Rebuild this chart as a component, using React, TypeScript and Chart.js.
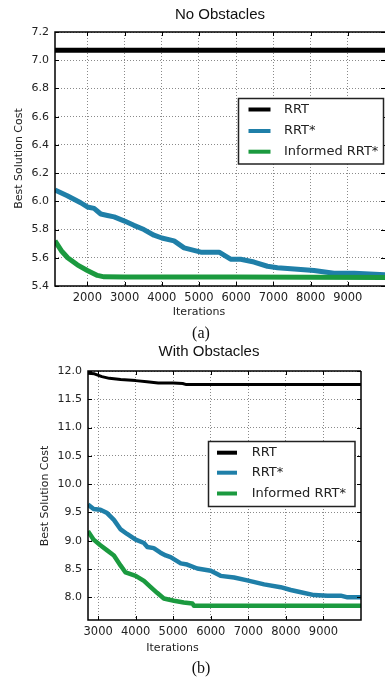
import React, { useEffect, useRef } from "react";
import { Chart, registerables } from "chart.js";

Chart.register(...registerables);

const seriesNames = ["RRT", "RRT*", "Informed RRT*"];
const seriesColors = ["#000000", "#1f7fa8", "#1b9a3f"];

// (a) No Obstacles
const titleA = "No Obstacles";
const xTicksA = [2000, 3000, 4000, 5000, 6000, 7000, 8000, 9000];
const yTicksA = [5.4, 5.6, 5.8, 6.0, 6.2, 6.4, 6.6, 6.8, 7.0, 7.2];
const rrtIterA = [1130, 10000];
const rrtCostA = [7.07, 7.07];
const rrtStarIterA = [1130, 1460, 1820, 2000, 2180, 2360, 2540, 2720, 3000, 3250, 3520, 3790, 4000, 4330, 4600, 5050, 5540, 5850, 6120, 6480, 6840, 7110, 7560, 8090, 8630, 9170, 10000];
const rrtStarCostA = [6.08, 6.04, 5.99, 5.96, 5.95, 5.91, 5.9, 5.89, 5.86, 5.83, 5.8, 5.76, 5.74, 5.72, 5.67, 5.64, 5.64, 5.59, 5.59, 5.57, 5.54, 5.53, 5.52, 5.51, 5.49, 5.49, 5.48];
const informedIterA = [1130, 1300, 1470, 1730, 2000, 2270, 2450, 3000, 6000, 10000];
const informedCostA = [5.72, 5.65, 5.6, 5.55, 5.51, 5.475, 5.465, 5.463, 5.463, 5.46];

// (b) With Obstacles
const titleB = "With Obstacles";
const xTicksB = [3000, 4000, 5000, 6000, 7000, 8000, 9000];
const yTicksB = [8.0, 8.5, 9.0, 9.5, 10.0, 10.5, 11.0, 11.5, 12.0];
const rrtIterB = [2730, 2900, 3100, 3300, 3600, 4000, 4300, 4600, 5000, 5250, 5350, 10000];
const rrtCostB = [11.96, 11.95, 11.9, 11.87, 11.85, 11.83, 11.81, 11.79, 11.79, 11.78, 11.76, 11.76];
const rrtStarIterB = [2730, 2880, 3060, 3240, 3420, 3600, 3770, 4000, 4220, 4310, 4480, 4660, 4800, 4930, 5200, 5370, 5640, 6000, 6260, 6620, 6970, 7420, 7860, 8130, 8400, 8750, 9110, 9460, 9640, 10000];
const rrtStarCostB = [9.64, 9.56, 9.55, 9.49, 9.37, 9.2, 9.12, 9.02, 8.96, 8.89, 8.87, 8.79, 8.74, 8.71, 8.6, 8.58, 8.51, 8.47, 8.38, 8.35, 8.3, 8.23, 8.18, 8.13, 8.09, 8.04, 8.03, 8.03, 8.0, 8.0];
const informedIterB = [2730, 2880, 3060, 3240, 3420, 3600, 3730, 4000, 4220, 4400, 4570, 4750, 5020, 5280, 5510, 5550, 10000];
const informedCostB = [9.17, 9.02, 8.92, 8.83, 8.74, 8.56, 8.44, 8.38, 8.29, 8.18, 8.08, 7.98, 7.94, 7.91, 7.89, 7.85, 7.85];

const xTitle = "Iterations";
const yTitle = "Best Solution Cost";

const SANS = '"DejaVu Sans", sans-serif';
const TEXT = "#222";

type Deco = {
  title: string;
  titleX: number;
  titleY: number;
  yTitleX: number;
  yTitleY: number;
  xTitleX: number;
  xTitleY: number;
  box: [number, number, number, number];
  rows: number[];
  lineX0: number;
  lineX1: number;
  textX: number;
  rightBorder: boolean;
  xTicks: number[];
  yTicks: number[];
};

function makeDecoPlugin(d: Deco) {
  return {
    id: "deco",
    afterDraw(chart: any) {
      const ctx = chart.ctx as CanvasRenderingContext2D;
      const a = chart.chartArea;
      const xs = chart.scales.x;
      const ys = chart.scales.y;
      ctx.save();
      // inward tick marks
      ctx.strokeStyle = "#000";
      ctx.lineWidth = 1;
      ctx.beginPath();
      d.xTicks.forEach((v) => {
        const px = Math.round(xs.getPixelForValue(v)) + 0.5;
        ctx.moveTo(px, a.bottom);
        ctx.lineTo(px, a.bottom - 4);
        ctx.moveTo(px, a.top);
        ctx.lineTo(px, a.top + 4);
      });
      d.yTicks.forEach((v) => {
        const py = Math.round(ys.getPixelForValue(v)) + 0.5;
        ctx.moveTo(a.left, py);
        ctx.lineTo(a.left + 4, py);
        ctx.moveTo(a.right, py);
        ctx.lineTo(a.right - 4, py);
      });
      ctx.stroke();
      // frame
      ctx.lineWidth = 1.5;
      ctx.beginPath();
      ctx.moveTo(a.right, a.top);
      ctx.lineTo(a.left, a.top);
      ctx.lineTo(a.left, a.bottom);
      ctx.lineTo(a.right, a.bottom);
      if (d.rightBorder) {
        ctx.lineTo(a.right, a.top);
      }
      ctx.stroke();
      // legend
      const [bl, bt, br, bb] = d.box;
      ctx.fillStyle = "#fff";
      ctx.fillRect(bl, bt, br - bl, bb - bt);
      ctx.strokeStyle = "#222";
      ctx.lineWidth = 1.5;
      ctx.strokeRect(bl, bt, br - bl, bb - bt);
      chart.data.datasets.forEach((ds: any, i: number) => {
        const y = d.rows[i];
        ctx.strokeStyle = ds.borderColor;
        ctx.lineWidth = 4;
        ctx.beginPath();
        ctx.moveTo(d.lineX0, y);
        ctx.lineTo(d.lineX1, y);
        ctx.stroke();
        ctx.fillStyle = TEXT;
        ctx.font = `13px ${SANS}`;
        ctx.textAlign = "left";
        ctx.textBaseline = "middle";
        ctx.fillText(ds.label, d.textX, y);
      });
      // titles
      ctx.fillStyle = "#111";
      ctx.font = `15px "Liberation Sans", Arial, sans-serif`;
      ctx.textAlign = "center";
      ctx.textBaseline = "middle";
      ctx.fillText(d.title, d.titleX, d.titleY);
      ctx.fillStyle = TEXT;
      ctx.font = `11px ${SANS}`;
      ctx.fillText(xTitle, d.xTitleX, d.xTitleY);
      ctx.translate(d.yTitleX, d.yTitleY);
      ctx.rotate(-Math.PI / 2);
      ctx.fillText(yTitle, 0, 0);
      ctx.restore();
    },
  };
}

function toPoints(xs: number[], ys: number[]) {
  return xs.map((x, i) => ({ x, y: ys[i] }));
}

function buildConfig(
  iters: number[][],
  costs: number[][],
  widths: number[],
  xMin: number,
  xMax: number,
  yMin: number,
  yMax: number,
  xTicks: number[],
  yTicks: number[],
  yWidth: number,
  padding: { left: number; top: number; right: number; bottom: number },
  deco: Deco
): any {
  return {
    type: "line",
    data: {
      datasets: seriesNames.map((name, i) => ({
        label: name,
        data: toPoints(iters[i], costs[i]),
        borderColor: seriesColors[i],
        backgroundColor: seriesColors[i],
        borderWidth: widths[i],
        pointRadius: 0,
        tension: 0,
        fill: false,
        borderJoinStyle: "round",
        borderCapStyle: "butt",
        order: i === 0 ? 0 : 3 - i,
      })),
    },
    options: {
      responsive: false,
      animation: false,
      events: [],
      layout: { padding },
      plugins: {
        legend: { display: false },
        title: { display: false },
        tooltip: { enabled: false },
      },
      scales: {
        x: {
          type: "linear",
          min: xMin,
          max: xMax,
          afterBuildTicks: (s: any) => {
            s.ticks = xTicks.map((v) => ({ value: v }));
          },
          afterFit: (s: any) => {
            s.height = 20;
          },
          ticks: {
            autoSkip: false,
            maxRotation: 0,
            padding: 5,
            color: TEXT,
            font: { family: SANS, size: 11.5 },
            callback: (v: any) => String(v),
          },
          grid: { color: "#8a8a8a", lineWidth: 1, drawTicks: false },
          border: { display: false, dash: [1, 2] },
        },
        y: {
          type: "linear",
          min: yMin,
          max: yMax,
          afterBuildTicks: (s: any) => {
            s.ticks = yTicks.map((v) => ({ value: v }));
          },
          afterFit: (s: any) => {
            s.width = yWidth;
          },
          ticks: {
            autoSkip: false,
            padding: 6,
            color: TEXT,
            font: { family: SANS, size: 11 },
            callback: (v: any) => Number(v).toFixed(1),
          },
          grid: { color: "#8a8a8a", lineWidth: 1, drawTicks: false },
          border: { display: false, dash: [1, 2] },
        },
      },
    },
    plugins: [makeDecoPlugin(deco)],
  };
}

export default function App() {
  const refA = useRef<HTMLCanvasElement>(null);
  const refB = useRef<HTMLCanvasElement>(null);

  useEffect(() => {
    const cfgA = buildConfig(
      [rrtIterA, rrtStarIterA, informedIterA],
      [rrtCostA, rrtStarCostA, informedCostA],
      [5, 5, 5],
      1130,
      10000,
      5.4,
      7.2,
      xTicksA,
      yTicksA,
      55,
      { left: 0, top: 32, right: 0, bottom: 34 },
      {
        title: titleA,
        titleX: 220,
        titleY: 15,
        yTitleX: 19,
        yTitleY: 158.5,
        xTitleX: 199,
        xTitleY: 312,
        box: [238.5, 98.5, 383.5, 164],
        rows: [109.5, 131, 151.7],
        lineX0: 248.5,
        lineX1: 270.5,
        textX: 284,
        rightBorder: false,
        xTicks: xTicksA,
        yTicks: yTicksA,
      }
    );
    const cfgB = buildConfig(
      [rrtIterB, rrtStarIterB, informedIterB],
      [rrtCostB, rrtStarCostB, informedCostB],
      [3, 4.5, 4.5],
      2730,
      10000,
      7.6,
      12.0,
      xTicksB,
      yTicksB,
      88,
      { left: 0, top: 31, right: 24, bottom: 39 },
      {
        title: titleB,
        titleX: 209,
        titleY: 12,
        yTitleX: 45,
        yTitleY: 156,
        xTitleX: 172.5,
        xTitleY: 308,
        box: [208.5, 101.5, 355, 166.5],
        rows: [112.7, 132.7, 153.5],
        lineX0: 217,
        lineX1: 237,
        textX: 251.7,
        rightBorder: true,
        xTicks: xTicksB,
        yTicks: yTicksB,
      }
    );
    const chartA = new Chart(refA.current as HTMLCanvasElement, cfgA);
    const chartB = new Chart(refB.current as HTMLCanvasElement, cfgB);
    return () => {
      chartA.destroy();
      chartB.destroy();
    };
  }, []);

  const caption: React.CSSProperties = {
    position: "absolute",
    left: 151,
    width: 100,
    textAlign: "center",
    fontFamily: '"Liberation Serif", "Times New Roman", serif',
    fontSize: 16,
    lineHeight: "16px",
    color: "#111",
  };

  return (
    <div style={{ position: "fixed", left: 0, top: 0, width: 385, height: 679, background: "#fff", overflow: "hidden" }}>
      <canvas ref={refA} width={385} height={340} style={{ position: "absolute", left: 0, top: 0, width: 385, height: 340 }} />
      <canvas ref={refB} width={385} height={339} style={{ position: "absolute", left: 0, top: 340, width: 385, height: 339 }} />
      <div style={{ ...caption, top: 325 }}>(a)</div>
      <div style={{ ...caption, top: 660 }}>(b)</div>
    </div>
  );
}
